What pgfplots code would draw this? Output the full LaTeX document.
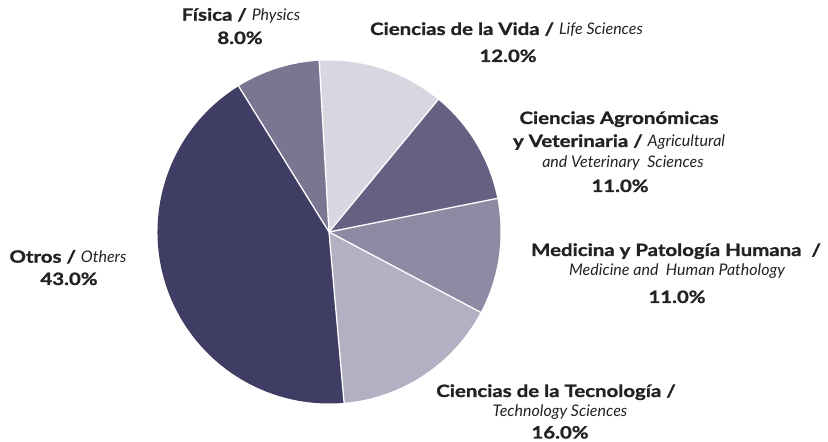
\documentclass[border=0pt]{standalone}
\usepackage{pgfplots}
\pgfplotsset{compat=1.18}
\usepackage{pgfplotstable}
\usepackage{fontspec}
\setmainfont{Lato}[BoldFeatures={FakeStretch=1.2,FakeBold=1.2}]
\definecolor{cVida}{HTML}{D8D7E1}
\definecolor{cFis}{HTML}{7A7692}
\definecolor{cOtros}{HTML}{403D64}
\definecolor{cTec}{HTML}{B3B0C4}
\definecolor{cMed}{HTML}{8E8AA3}
\definecolor{cAgr}{HTML}{646182}
\definecolor{txt}{HTML}{222222}
\pgfplotstableread{
label value
Vida 12
Fisica 8
Otros 43
Tecnologia 16
Medicina 11
Agro 11
}\piedata
\newcommand{\B}{\fontsize{17bp}{20bp}\selectfont\bfseries}
\newcommand{\I}{\fontsize{16bp}{18bp}\selectfont\itshape\mdseries}
\begin{document}
\begin{tikzpicture}
\pgfplotstablegetelem{0}{value}\of\piedata \edef\vA{\pgfplotsretval}
\pgfplotstablegetelem{1}{value}\of\piedata \edef\vB{\pgfplotsretval}
\pgfplotstablegetelem{2}{value}\of\piedata \edef\vC{\pgfplotsretval}
\pgfplotstablegetelem{3}{value}\of\piedata \edef\vD{\pgfplotsretval}
\pgfplotstablegetelem{4}{value}\of\piedata \edef\vE{\pgfplotsretval}
\pgfplotstablegetelem{5}{value}\of\piedata \edef\vF{\pgfplotsretval}
\pgfmathsetmacro\tot{\vA+\vB+\vC+\vD+\vE+\vF}
\pgfmathsetmacro\aA{50.5}
\pgfmathsetmacro\aB{\aA+\vA*360/\tot}
\pgfmathsetmacro\aC{\aB+\vB*360/\tot}
\pgfmathsetmacro\aD{\aC+\vC*360/\tot}
\pgfmathsetmacro\aE{\aD+\vD*360/\tot}
\pgfmathsetmacro\aF{\aE+\vE*360/\tot}
\pgfmathsetmacro\aG{\aF+\vF*360/\tot}
\def\R{171.5bp}
\begin{axis}[x=1bp,y=1bp,xmin=-329,xmax=499,ymin=-210,ymax=232,
  hide axis, clip=false]
\fill[cVida] (axis cs:0,0) -- ++(\aA:\R) arc[start angle=\aA,end angle=\aB,radius=\R] -- cycle;
\fill[cFis] (axis cs:0,0) -- ++(\aB:\R) arc[start angle=\aB,end angle=\aC,radius=\R] -- cycle;
\fill[cOtros] (axis cs:0,0) -- ++(\aC:\R) arc[start angle=\aC,end angle=\aD,radius=\R] -- cycle;
\fill[cTec] (axis cs:0,0) -- ++(\aD:\R) arc[start angle=\aD,end angle=\aE,radius=\R] -- cycle;
\fill[cMed] (axis cs:0,0) -- ++(\aE:\R) arc[start angle=\aE,end angle=\aF,radius=\R] -- cycle;
\fill[cAgr] (axis cs:0,0) -- ++(\aF:\R) arc[start angle=\aF,end angle=\aG,radius=\R] -- cycle;
\draw[white,line width=1.3bp] (axis cs:0,0) -- ++(\aA:\R);
\draw[white,line width=1.3bp] (axis cs:0,0) -- ++(\aB:\R);
\draw[white,line width=1.3bp] (axis cs:0,0) -- ++(\aC:\R);
\draw[white,line width=1.3bp] (axis cs:0,0) -- ++(\aD:\R);
\draw[white,line width=1.3bp] (axis cs:0,0) -- ++(\aE:\R);
\draw[white,line width=1.3bp] (axis cs:0,0) -- ++(\aF:\R);
% labels (pixel x-329, 232-pixel y)
\begin{scope}[every node/.style={text=txt,inner sep=0pt,anchor=base}]
\node at (axis cs:-88,211.3) {\B Física / \I Physics};
\node at (axis cs:-89,188) {\B 8.0\%};
\node at (axis cs:177.5,197) {\B Ciencias de la Vida / \I Life Sciences};
\node at (axis cs:179,170) {\B 12.0\%};
\node at (axis cs:290,108) {\B Ciencias Agronómicas};
\node at (axis cs:290,85) {\B y Veterinaria / \I Agricultural};
\node at (axis cs:294,64) {\I and Veterinary\ \ Sciences};
\node at (axis cs:291,40) {\B 11.0\%};
\node at (axis cs:-261,-30.7) {\B Otros / \I Others};
\node at (axis cs:-260,-53) {\B 43.0\%};
\node at (axis cs:347,-24) {\B Medicina y Patología Humana\ \ /};
\node at (axis cs:348,-44) {\I Medicine and\ \ Human Pathology};
\node at (axis cs:348,-71) {\B 11.0\%};
\node at (axis cs:227,-165) {\B Ciencias de la Tecnología /};
\node at (axis cs:231,-185) {\I Technology Sciences};
\node at (axis cs:231,-206.5) {\B 16.0\%};
\end{scope}
\end{axis}
\pgfresetboundingbox
\useasboundingbox (current axis.south west) rectangle (current axis.north east);
\end{tikzpicture}
\end{document}
